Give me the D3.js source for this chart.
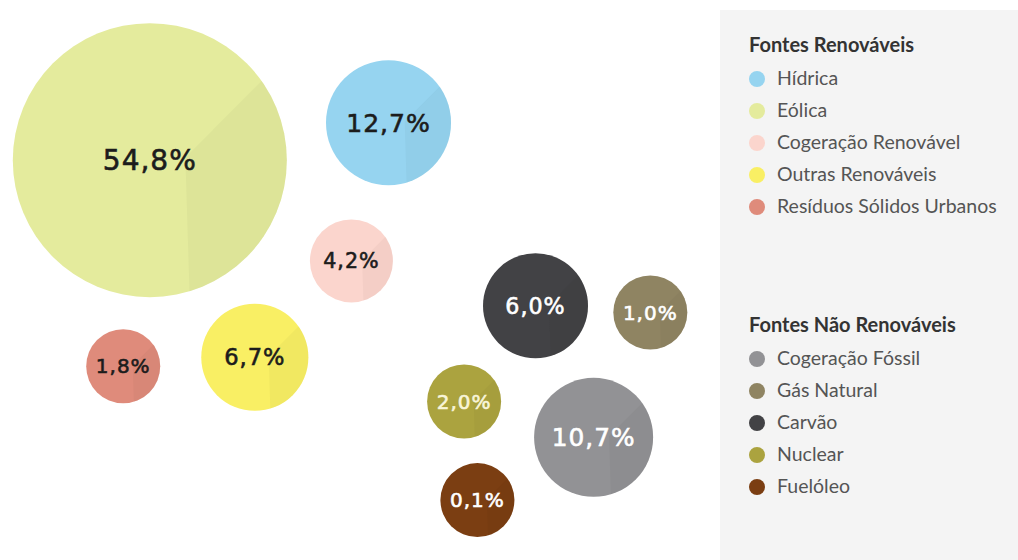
<!DOCTYPE html>
<html>
	<head>
		<meta charset="utf-8">
		<title>Fontes de energia</title>
		<style type="text/css">
			body { margin: 0; background: #fff; }
			.bubble-label {
			font-family: "DejaVu Sans", sans-serif;
			letter-spacing: 1px;
			}
			.legend-title {
			font: bold 20px Lato, "Open Sans", sans-serif;
			fill: #333;
			}
			.legend-item {
			font: 19.5px Lato, "Open Sans", sans-serif;
			fill: #555;
			}
		</style>
		<script src="https://d3js.org/d3.v7.min.js"></script>
	</head>
	<body>
		<div id="chart"></div>
		<script>

			// data
			var groups = ["Fontes Renováveis", "Fontes Não Renováveis"];
			var renewables = ["Hídrica", "Eólica", "Cogeração Renovável", "Outras Renováveis", "Resíduos Sólidos Urbanos"];
			var nonRenewables = ["Cogeração Fóssil", "Gás Natural", "Carvão", "Nuclear", "Fuelóleo"];
			var shares = [12.7, 54.8, 4.2, 6.7, 1.8, 10.7, 1.0, 6.0, 2.0, 0.1];
			var labels = ["12,7%", "54,8%", "4,2%", "6,7%", "1,8%", "10,7%", "1,0%", "6,0%", "2,0%", "0,1%"];
			var colors = ["#96d4f0", "#e4eb9d", "#fbd5cd", "#f9ef64", "#df8b7b",
				"#929295", "#8f8462", "#424245", "#aba33f", "#7b3e12"];
			var labelColors = ["#1c1c1c", "#1c1c1c", "#1c1c1c", "#1c1c1c", "#1c1c1c",
				"#ffffff", "#ffffff", "#ffffff", "#f8f5d8", "#ffffff"];

			// hand placed bubble layout, in % of the bubble area
			var layoutX = [55.5, 21.4, 50.2, 36.4, 17.6, 84.8, 92.9, 76.5, 66.3, 68.2];
			var layoutY = [21.9, 28.6, 46.6, 63.8, 65.4, 78.1, 55.8, 54.6, 71.7, 89.3];

			var names = renewables.concat(nonRenewables);
			var data = names.map(function(n, i) {
				return { name: n, value: shares[i], label: labels[i], color: colors[i], text: labelColors[i], lx: layoutX[i], ly: layoutY[i] };
			});

			var width = 1018, height = 560;
			var areaW = 700, areaH = 560;

			var svg = d3.select("#chart").append("svg")
			.attr("width", width)
			.attr("height", height);

			var x = d3.scaleLinear().domain([0, 100]).range([0, areaW]);
			var y = d3.scaleLinear().domain([0, 100]).range([0, areaH]);

			// radius: small shares get a minimum size
			var r = d3.scaleLinear()
			.domain([0, 2, 4.2, 6, 12.7, 54.8])
			.range([37, 37, 41.5, 52.5, 62.5, 137]);

			var fontSize = d3.scaleLinear()
			.domain([37, 52, 60, 137])
			.range([20, 22, 25, 28])
			.clamp(true);

			var defs = svg.append("defs");

			var bubbles = svg.selectAll(".bubble")
			.data(data)
			.enter().append("g")
			.attr("class", "bubble")
			.attr("transform", function(d) { return "translate(" + x(d.lx) + "," + y(d.ly) + ")"; });

			bubbles.each(function(d, i) {
				defs.append("clipPath")
				.attr("id", "clip" + i)
				.append("circle")
				.attr("r", r(d.value));
			});

			bubbles.append("circle")
			.attr("r", function(d) { return r(d.value); })
			.attr("fill", function(d) { return d.color; });

			// darker wedge on the right side
			bubbles.append("path")
			.attr("clip-path", function(d, i) { return "url(#clip" + i + ")"; })
			.attr("fill", function(d) { return d3.color(d.color).darker(0.35); })
			.attr("opacity", 0.25)
			.attr("d", function(d) {
				var rr = r(d.value);
				var ax = 0.26 * rr, ay = -0.02 * rr;
				return "M" + ax + "," + ay +
					"L" + (ax + 1.3 * rr) + "," + (ay - 1.3 * rr) +
					"L" + (1.6 * rr) + "," + (1.6 * rr) +
					"L" + (ax + 0.05 * rr) + "," + (1.6 * rr) + "Z";
			});

			bubbles.append("text")
			.attr("class", "bubble-label")
			.attr("text-anchor", "middle")
			.attr("dy", "0.36em")
			.attr("font-size", function(d) { return fontSize(r(d.value)) + "px"; })
			.attr("fill", function(d) { return d.text; })
			.attr("stroke", function(d) { return d.text; })
			.attr("stroke-width", 0.6)
			.text(function(d) { return d.label; });

			// legend
			var legend = svg.append("g")
			.attr("transform", "translate(720,10)");

			legend.append("rect")
			.attr("width", width - 720)
			.attr("height", height - 10)
			.attr("fill", "#f4f4f4");

			var groupItems = [renewables, nonRenewables];
			var groupTop = [42, 322];

			groupItems.forEach(function(items, g) {
				var lg = legend.append("g")
				.attr("transform", "translate(29," + groupTop[g] + ")");

				lg.append("text")
				.attr("class", "legend-title")
				.attr("x", 0)
				.attr("y", 0)
				.text(groups[g]);

				var rows = lg.selectAll(".row")
				.data(items)
				.enter().append("g")
				.attr("class", "row")
				.attr("transform", function(d, i) { return "translate(0," + (27 + i * 32) + ")"; });

				rows.append("circle")
				.attr("cx", 8)
				.attr("cy", 0)
				.attr("r", 8)
				.attr("fill", function(d) { return colors[names.indexOf(d)]; });

				rows.append("text")
				.attr("class", "legend-item")
				.attr("x", 28)
				.attr("y", 6)
				.text(function(d) { return d; });
			});

		</script>
	</body>
</html>
